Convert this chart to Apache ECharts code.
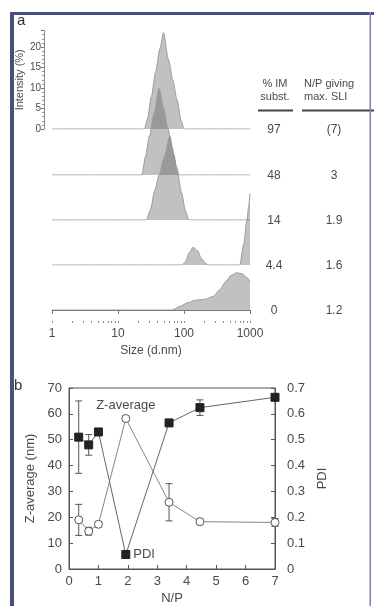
<!DOCTYPE html>
<html>
<head>
<meta charset="utf-8">
<style>
  html, body { margin: 0; padding: 0; background: #fff; }
  #chart { width: 374px; height: 606px; }
</style>
<script src="https://cdn.jsdelivr.net/npm/echarts@6/dist/echarts.min.js"></script>
</head>
<body>
<div id="chart"></div>
<script>
// ---- panel a: size distributions (intensity %, size in d.nm) ----
var sizes97 = [1, 25, 28, 32, 37, 43, 49, 58, 68, 78, 91, 100, 1000];
var int97   = [0, 0, 2.5, 7.9, 13.8, 19.5, 23.5, 17, 11.8, 7.2, 2, 0, 0];
var sizes48 = [1, 23, 26, 30, 35, 42, 49, 57, 66, 76, 85, 1000];
var int48   = [0, 0, 4.4, 9.5, 14.9, 21.2, 16.3, 11.4, 6.7, 2.2, 0, 0];
var sizes14 = [1, 27, 31, 36, 42, 50, 61, 70, 80, 92, 105, 118, 1000];
var int14   = [0, 0, 2.5, 7.2, 11, 15.3, 20.5, 16, 11.4, 6.6, 2.3, 0, 0];
var sizes44 = [1, 92, 105, 120, 137, 160, 185, 215, 240, 700, 800, 900, 950, 1000];
var int44   = [0, 0, 0.8, 3, 4.3, 3.5, 1.5, 0.3, 0, 0, 5, 11, 14, 17.5];
var sizes0  = [1, 66, 87, 115, 147, 208, 275, 351, 433, 515, 630, 760, 890, 1000];
var int0    = [0, 0, 0.9, 1.8, 2.4, 2.6, 3.3, 5, 7, 8.4, 9.1, 8.8, 8, 6.9];

var imSubst = ['97', '48', '14', '4.4', '0'];
var npMaxSli = ['(7)', '3', '1.9', '1.6', '1.2'];
var sizeTicks = [1, 2, 3, 4, 5, 6, 7, 8, 9, 10, 20, 30, 40, 50, 60, 70, 80, 90,
                 100, 200, 300, 400, 500, 600, 700, 800, 900, 1000];

// ---- panel b: Z-average and PDI vs N/P ----
var np      = [0.33, 0.67, 1, 1.93, 3.4, 4.45, 7];
var zAvg    = [19, 14.6, 17.3, 58.2, 25.8, 18.3, 18];
var zErr    = [6, 1.5, 1, 1, 7.2, 1, 1.5];
var pdi     = [0.51, 0.48, 0.53, 0.056, 0.565, 0.624, 0.664];
var pdiErr  = [0.14, 0.04, 0.01, 0.01, 0.01, 0.03, 0.01];

var textColor = '#4a4a4a';
var fillColor = 'rgba(80,80,85,0.5)';

var curves = [[sizes97, int97], [sizes48, int48], [sizes14, int14], [sizes44, int44], [sizes0, int0]];
var baselines = [129, 175, 220, 265, 310];
var pxPerUnit = 4.1;
var yMaxA = 24;

function pairs(xs, ys) {
    return xs.map(function (x, i) { return [x, ys[i]]; });
}

var grids = [], xAxes = [], yAxes = [], series = [];

baselines.forEach(function (b, i) {
    grids.push({left: 52, width: 198, top: b - yMaxA * pxPerUnit, height: yMaxA * pxPerUnit});
    var last = i === baselines.length - 1;
    xAxes.push({
        type: 'log', logBase: 10, gridIndex: i, min: 1, max: 1000,
        show: last, offset: last ? 11 : 0,
        name: last ? 'Size (d.nm)' : '', nameLocation: 'middle', nameGap: 24,
        nameTextStyle: {color: textColor, fontSize: 12, fontFamily: 'Liberation Sans'},
        axisLine: {lineStyle: {color: '#777', width: 1}},
        axisTick: {length: 4, lineStyle: {color: '#777'}},
        axisLabel: {color: textColor, fontSize: 12, margin: 7, fontFamily: 'Liberation Sans',
                    formatter: function (v) { return String(Math.round(v)); }},
        splitLine: {show: false}, minorSplitLine: {show: false}
    });
    yAxes.push({
        type: 'value', gridIndex: i, min: 0, max: yMaxA, interval: 5,
        show: i === 0, offset: 8,
        name: i === 0 ? 'Intensity (%)' : '', nameLocation: 'middle', nameRotate: 90, nameGap: 19,
        nameMoveOverlap: false,
        nameTextStyle: {color: textColor, fontSize: 11, fontFamily: 'Liberation Sans'},
        axisLine: {show: true, lineStyle: {color: '#888', width: 1}},
        axisTick: {show: true, length: 3, lineStyle: {color: '#777'}},
        minorTick: {show: true, splitNumber: 5, length: 2, lineStyle: {color: '#999'}},
        axisLabel: {
            color: textColor, fontSize: 10, margin: 3, fontFamily: 'Liberation Sans',
            formatter: function (v) { return v % 5 === 0 && v <= 20 ? String(v) : ''; }
        },
        splitLine: {show: false}
    });
    series.push({
        type: 'line', xAxisIndex: i, yAxisIndex: i,
        data: pairs(curves[i][0], curves[i][1]),
        symbol: 'none', smooth: 0.25, smoothMonotone: 'x',
        lineStyle: {color: '#9c9c9c', width: 1},
        areaStyle: {color: fillColor},
        z: 2 + i
    });
});

// minor log ticks on the size axis
xAxes.push({
    type: 'value', gridIndex: 4, min: 0, max: 3, position: 'bottom', offset: 11,
    axisLine: {show: false}, axisLabel: {show: false}, splitLine: {show: false},
    axisTick: {show: true, length: 2, customValues: sizeTicks.map(Math.log10), lineStyle: {color: '#888'}}
});

// panel b grid
grids.push({left: 69, top: 388, width: 206, height: 188, show: true, borderColor: '#555', borderWidth: 1});
var gB = grids.length - 1;
xAxes.push({
    type: 'value', gridIndex: gB, min: 0, max: 7, interval: 1,
    name: 'N/P', nameLocation: 'middle', nameGap: 23,
    nameTextStyle: {color: textColor, fontSize: 13, fontFamily: 'Liberation Sans'},
    axisLine: {lineStyle: {color: '#555'}},
    axisTick: {inside: true, length: 4, lineStyle: {color: '#555'}},
    axisLabel: {color: textColor, fontSize: 13, margin: 6, fontFamily: 'Liberation Sans'},
    splitLine: {show: false}
});
var xB = xAxes.length - 1;
yAxes.push({
    type: 'value', gridIndex: gB, min: 0, max: 70, interval: 10,
    name: 'Z-average (nm)', nameLocation: 'middle', nameRotate: 90, nameGap: 31,
    nameTextStyle: {color: textColor, fontSize: 13, fontFamily: 'Liberation Sans'},
    axisLine: {show: true, lineStyle: {color: '#555'}},
    axisTick: {inside: true, length: 4, lineStyle: {color: '#555'}},
    axisLabel: {color: textColor, fontSize: 13, margin: 7, fontFamily: 'Liberation Sans'},
    splitLine: {show: false}
});
var yZ = yAxes.length - 1;
yAxes.push({
    type: 'value', gridIndex: gB, min: 0, max: 0.7, interval: 0.1, position: 'right',
    name: 'PDI', nameLocation: 'middle', nameRotate: 90, nameGap: 40,
    nameTextStyle: {color: textColor, fontSize: 13, fontFamily: 'Liberation Sans'},
    axisLine: {show: true, lineStyle: {color: '#555'}},
    axisTick: {inside: true, length: 4, lineStyle: {color: '#555'}},
    axisLabel: {color: textColor, fontSize: 13, margin: 12, fontFamily: 'Liberation Sans'},
    splitLine: {show: false}
});
var yP = yAxes.length - 1;

function errorBars(params, api) {
    var x = api.value(0), lo = api.value(1), hi = api.value(2);
    var p1 = api.coord([x, hi]), p2 = api.coord([x, lo]);
    var w = 3.5;
    var st = {stroke: '#555', lineWidth: 1};
    return {type: 'group', children: [
        {type: 'line', shape: {x1: p1[0], y1: p1[1], x2: p2[0], y2: p2[1]}, style: st},
        {type: 'line', shape: {x1: p1[0] - w, y1: p1[1], x2: p1[0] + w, y2: p1[1]}, style: st},
        {type: 'line', shape: {x1: p2[0] - w, y1: p2[1], x2: p2[0] + w, y2: p2[1]}, style: st}
    ]};
}

series.push({
    type: 'custom', xAxisIndex: xB, yAxisIndex: yZ, renderItem: errorBars, z: 1,
    data: np.map(function (x, i) { return [x, zAvg[i] - zErr[i], zAvg[i] + zErr[i]]; })
});
series.push({
    type: 'custom', xAxisIndex: xB, yAxisIndex: yP, renderItem: errorBars, z: 1,
    data: np.map(function (x, i) { return [x, pdi[i] - pdiErr[i], pdi[i] + pdiErr[i]]; })
});
series.push({
    type: 'line', name: 'Z-average', xAxisIndex: xB, yAxisIndex: yZ, z: 3,
    data: np.map(function (x, i) {
        var d = {value: [x, zAvg[i]]};
        if (i === 3) d.label = {show: true, position: 'top', distance: 2, formatter: 'Z-average',
            color: textColor, fontSize: 13, fontFamily: 'Liberation Sans'};
        return d;
    }),
    symbol: 'circle', symbolSize: 8,
    itemStyle: {color: '#fff', borderColor: '#555', borderWidth: 1},
    lineStyle: {color: '#888', width: 1}
});
series.push({
    type: 'line', name: 'PDI', xAxisIndex: xB, yAxisIndex: yP, z: 4,
    data: np.map(function (x, i) {
        var d = {value: [x, pdi[i]]};
        if (i === 3) d.label = {show: true, position: 'right', distance: 3, formatter: 'PDI',
            color: textColor, fontSize: 13, fontFamily: 'Liberation Sans'};
        return d;
    }),
    symbol: 'rect', symbolSize: 8,
    itemStyle: {color: '#222', borderColor: '#222'},
    lineStyle: {color: '#666', width: 1}
});

// table to the right of panel a and frame
var graphics = [
    {type: 'rect', shape: {x: 10, y: 12, width: 4, height: 594}, style: {fill: '#4b4f7c'}, z: 100},
    {type: 'rect', shape: {x: 10, y: 12, width: 364, height: 3}, style: {fill: '#4b4f7c'}, z: 100},
    {type: 'rect', shape: {x: 369.5, y: 12, width: 1.5, height: 594}, style: {fill: '#7e84aa'}, z: 100},
    {type: 'text', left: 17, top: 13, style: {text: 'a', fontSize: 15, fontFamily: 'Liberation Sans', fill: '#333'}, z: 101},
    {type: 'text', left: 14, top: 378, style: {text: 'b', fontSize: 15, fontFamily: 'Liberation Sans', fill: '#333'}, z: 99},
    {type: 'text', x: 275, y: 84, style: {text: '% IM', fontSize: 11, fontFamily: 'Liberation Sans', fill: textColor, align: 'center', verticalAlign: 'middle'}},
    {type: 'text', x: 275, y: 97, style: {text: 'subst.', fontSize: 11, fontFamily: 'Liberation Sans', fill: textColor, align: 'center', verticalAlign: 'middle'}},
    {type: 'text', x: 304, y: 84, style: {text: 'N/P giving', fontSize: 11, fontFamily: 'Liberation Sans', fill: textColor, align: 'left', verticalAlign: 'middle'}},
    {type: 'text', x: 304, y: 97, style: {text: 'max. SLI', fontSize: 11, fontFamily: 'Liberation Sans', fill: textColor, align: 'left', verticalAlign: 'middle'}},
    {type: 'rect', shape: {x: 258, y: 109.5, width: 35, height: 2}, style: {fill: '#444'}},
    {type: 'rect', shape: {x: 302, y: 109.5, width: 72, height: 2}, style: {fill: '#444'}}
];
baselines.forEach(function (b, i) {
    graphics.push({type: 'text', x: 274, y: b + 1, style: {text: imSubst[i], fontSize: 12, fontFamily: 'Liberation Sans', fill: textColor, align: 'center', verticalAlign: 'middle'}});
    graphics.push({type: 'text', x: 334, y: b + 1, style: {text: npMaxSli[i], fontSize: 12, fontFamily: 'Liberation Sans', fill: textColor, align: 'center', verticalAlign: 'middle'}});
});

var chart = echarts.init(document.getElementById('chart'));
chart.setOption({
    animation: false,
    backgroundColor: '#fff',
    grid: grids,
    xAxis: xAxes,
    yAxis: yAxes,
    series: series,
    graphic: graphics
});
</script>
</body>
</html>
